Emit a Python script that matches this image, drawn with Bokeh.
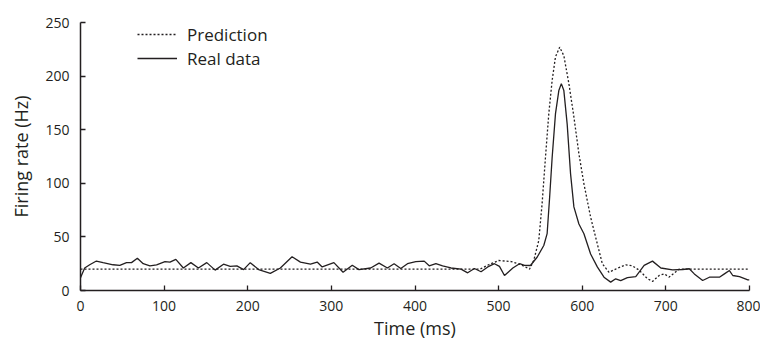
from bokeh.plotting import figure
from bokeh.models import Legend, LegendItem, FixedTicker, Range1d
from bokeh.embed import file_html
from bokeh.resources import INLINE

real_t = [0, 5, 11, 19, 27, 39, 47, 55, 61, 68, 75, 83, 91, 101, 107, 114, 123, 132, 141, 151,
          161, 171, 179, 187, 195, 203, 213, 227, 239, 253, 263, 275, 283, 289, 303, 314, 325, 333,
          347, 357, 367, 375, 383, 391, 401, 411, 417, 425, 433, 443, 455, 463, 471, 479, 487, 495,
          501, 507, 517, 525, 531, 538, 546, 554, 558, 561, 564, 568, 572, 575, 578, 582, 586, 590,
          596, 602, 610, 618, 626, 634, 640, 646, 654, 664, 674, 684, 694, 708, 720, 728, 734, 744,
          752, 764, 770, 776, 780, 788, 798, 800]
real_v = [12, 21, 24, 27.5, 26, 24, 23.5, 26, 26, 30, 25, 23, 24, 27, 26.5, 29, 21, 26, 21, 26,
          19, 24.5, 22.5, 23, 19.5, 26, 19.5, 16, 21, 31.5, 26.5, 24.5, 26.5, 22, 26, 17, 23.5, 19.5,
          21, 25.5, 21, 25, 20.5, 25, 27, 27.4, 23, 25, 23, 21, 20, 16.5, 20.5, 17.5, 22, 25,
          22.5, 14, 21, 25, 23.5, 23.3, 31, 42, 53, 87, 124, 165, 186.5, 193, 186.5, 155, 109, 78,
          62, 53, 34, 22, 12.4, 7.8, 10.9, 9.3, 12, 13, 23.4, 27.4, 21, 19.3, 19.6, 20.3, 15.5, 9.3,
          12.4, 12.4, 15.5, 18.6, 14, 13, 10, 10]

pred_t = [0, 478, 488, 500, 515, 527, 537, 542, 548, 552, 556, 560, 564, 568, 573, 578, 584, 590,
          596, 602, 610, 618, 624, 632, 640, 652, 660, 668, 678, 684, 692, 698, 704, 716, 800]
pred_v = [20, 20, 24, 28, 27, 24, 20, 28, 46.6, 81, 124, 165, 196, 218, 227, 219, 193, 162,
          127.5, 99.5, 68.4, 43.5, 25, 17, 20, 24, 23, 19, 11, 8.5, 14, 15.5, 12.5, 20, 20]

x_ticks = [0, 100, 200, 300, 400, 500, 600, 700, 800]
y_ticks = [0, 50, 100, 150, 200, 250]

FONT = "Open Sans"
INK = "#231F20"

p = figure(width=760, height=343, output_backend="svg", toolbar_location=None,
           x_range=Range1d(0, 800), y_range=Range1d(0, 250),
           min_border_left=80, min_border_right=11, min_border_top=22, min_border_bottom=53)
p.outline_line_color = None
p.xgrid.visible = False
p.ygrid.visible = False
p.background_fill_color = "white"

r_pred = p.line(pred_t, pred_v, line_color=INK, line_width=1.3, line_dash="2 2")
r_real = p.line(real_t, real_v, line_color=INK, line_width=1.3)

for ax in (p.xaxis[0], p.yaxis[0]):
    ax.axis_line_color = INK
    ax.axis_line_width = 1.5
    ax.major_tick_in = 5
    ax.major_tick_out = 0
    ax.major_tick_line_color = INK
    ax.major_tick_line_width = 1.3
    ax.minor_tick_line_color = None
    ax.major_label_text_font = FONT
    ax.major_label_text_font_size = "14px"
    ax.major_label_text_color = INK
    ax.axis_label_text_font = FONT
    ax.axis_label_text_font_size = "18px"
    ax.axis_label_text_font_style = "normal"
    ax.axis_label_text_color = INK

p.xaxis.ticker = FixedTicker(ticks=x_ticks)
p.yaxis.ticker = FixedTicker(ticks=y_ticks)
p.xaxis.axis_label = "Time (ms)"
p.yaxis.axis_label = "Firing rate (Hz)"
p.xaxis.major_label_standoff = 10
p.yaxis.major_label_standoff = 11
p.xaxis.axis_label_standoff = 2
p.yaxis.axis_label_standoff = 9

legend = Legend(items=[LegendItem(label="Prediction", renderers=[r_pred]),
                       LegendItem(label="Real data", renderers=[r_real])],
                location=(57, 220), padding=0, margin=0, spacing=0,
                label_height=24, glyph_height=24, glyph_width=40, label_standoff=10,
                border_line_color=None, background_fill_alpha=0,
                label_text_font=FONT, label_text_font_size="17px", label_text_color=INK)
p.add_layout(legend)

open("out.html", "w").write(file_html(p, INLINE))
